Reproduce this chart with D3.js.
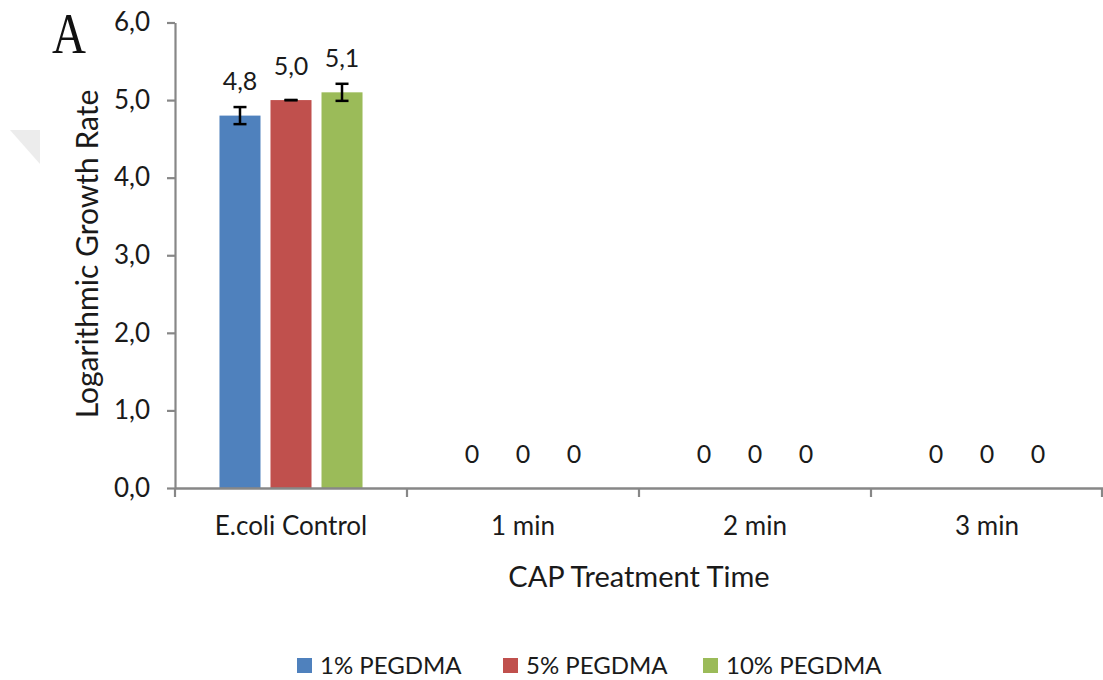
<!DOCTYPE html>
<html>
<head>
<meta charset="utf-8">
<script src="https://cdn.jsdelivr.net/npm/d3@7"></script>
<style>
  html, body { margin: 0; padding: 0; background: #fff; }
  svg { display: block; }
  text { font-family: Lato, "Noto Sans", sans-serif; fill: #1a1a1a; }
</style>
</head>
<body>
<svg id="chart" width="1103" height="680"></svg>
<script>
// Treatment groups on the x axis
const categories = ["E.coli Control", "1 min", "2 min", "3 min"];
// Polymer concentrations (one bar per group)
const seriesNames = ["1% PEGDMA", "5% PEGDMA", "10% PEGDMA"];
const seriesColors = ["#4f81bd", "#c0504d", "#9bbb59"];
// Logarithmic growth rate per series, one value per group
const values1 = [4.8, 0, 0, 0];
const values5 = [5.0, 0, 0, 0];
const values10 = [5.1, 0, 0, 0];
// Standard deviations (error bars) per series
const errors1 = [0.11, 0, 0, 0];
const errors5 = [0.0, 0, 0, 0];
const errors10 = [0.11, 0, 0, 0];
// Y tick values
const yTicks = [0, 1, 2, 3, 4, 5, 6];

const seriesValues = [values1, values5, values10];
const seriesErrors = [errors1, errors5, errors10];

const svg = d3.select("#chart");
const axisFmt = v => d3.format(".1f")(v).replace(".", ",");
const labelFmt = v => v === 0 ? "0" : axisFmt(v);
const axisColor = "#878787";

const plotLeft = 175, plotRight = 1103, plotTop = 22.5, plotBottom = 488;

const x0 = d3.scaleBand().domain(categories).range([plotLeft, plotRight]).padding(0);
const x1 = d3.scaleBand().domain(seriesNames).range([0, x0.bandwidth()])
  .paddingInner(0.196).paddingOuter(0.872);
const y = d3.scaleLinear().domain([0, 6]).range([plotBottom, plotTop]);

// faint watermark corner at the left edge
svg.append("polygon")
  .attr("points", "10,130 40,130 40,164")
  .attr("fill", "#ececec");

// panel letter
svg.append("text")
  .attr("transform", "translate(52,53) scale(0.84,1)")
  .style("font-family", "'Liberation Serif', 'DejaVu Serif', serif")
  .style("font-size", "56px")
  .style("fill", "#111")
  .text("A");

// bars
const groups = svg.append("g").selectAll("g")
  .data(categories)
  .join("g")
  .attr("transform", d => `translate(${x0(d)},0)`);

const rowsFor = (c, ci) => seriesNames.map((s, si) => ({ s, si, v: seriesValues[si][ci], e: seriesErrors[si][ci] }));

groups.selectAll("rect")
  .data(rowsFor)
  .join("rect")
  .attr("x", d => x1(d.s))
  .attr("y", d => y(d.v))
  .attr("width", x1.bandwidth())
  .attr("height", d => y(0) - y(d.v))
  .attr("fill", d => seriesColors[d.si]);

// error bars on non-zero values
const eb = groups.selectAll("g.err")
  .data((c, ci) => rowsFor(c, ci).filter(d => d.v > 0))
  .join("g")
  .attr("class", "err")
  .attr("stroke", "#000")
  .attr("stroke-width", 2.5);
const cx = d => x1(d.s) + x1.bandwidth() / 2;
const capHalf = 6.5;
eb.append("line").attr("x1", cx).attr("x2", cx).attr("y1", d => y(d.v + d.e)).attr("y2", d => y(d.v - d.e));
eb.append("line").attr("x1", d => cx(d) - capHalf).attr("x2", d => cx(d) + capHalf).attr("y1", d => y(d.v + d.e)).attr("y2", d => y(d.v + d.e));
eb.append("line").attr("x1", d => cx(d) - capHalf).attr("x2", d => cx(d) + capHalf).attr("y1", d => y(d.v - d.e)).attr("y2", d => y(d.v - d.e));

// value labels
groups.selectAll("text.val")
  .data(rowsFor)
  .join("text")
  .attr("class", "val")
  .attr("x", cx)
  .attr("y", d => y(d.v) - 25.5)
  .attr("text-anchor", "middle")
  .style("font-size", "25px")
  .text(d => labelFmt(d.v));

// y axis
const yAxis = svg.append("g")
  .attr("transform", `translate(${plotLeft},0)`)
  .call(d3.axisLeft(y).tickValues(yTicks).tickFormat(axisFmt).tickSize(8).tickSizeOuter(0).tickPadding(17));
yAxis.select(".domain").attr("stroke", axisColor).attr("stroke-width", 2.2);
yAxis.selectAll(".tick line").attr("stroke", axisColor).attr("stroke-width", 2.2);
yAxis.selectAll(".tick text").style("font-size", "26px").style("font-family", "Lato, sans-serif").attr("fill", "#1a1a1a");

// x axis with ticks at group boundaries
const xAxis = svg.append("g")
  .attr("transform", `translate(0,${plotBottom})`)
  .call(d3.axisBottom(x0).tickSize(0).tickPadding(0));
xAxis.select(".domain").attr("stroke", axisColor).attr("stroke-width", 2.6);
xAxis.selectAll(".tick text")
  .attr("y", 47).attr("dy", null)
  .style("font-size", "26px").style("font-family", "Lato, sans-serif").attr("fill", "#1a1a1a");
xAxis.selectAll("line.bound")
  .data(categories.map(c => x0(c)).concat([x0(categories[categories.length - 1]) + x0.bandwidth() - 1]))
  .join("line")
  .attr("class", "bound")
  .attr("x1", d => d).attr("x2", d => d)
  .attr("y1", 0).attr("y2", 9)
  .attr("stroke", axisColor).attr("stroke-width", 2.2);

// axis titles
svg.append("text")
  .attr("x", 639)
  .attr("y", 587)
  .attr("text-anchor", "middle")
  .style("font-size", "29px")
  .text("CAP Treatment Time");

svg.append("text")
  .attr("transform", "translate(98,254) rotate(-90)")
  .attr("text-anchor", "middle")
  .style("font-size", "30px")
  .text("Logarithmic Growth Rate");

// legend
const legendX = [297, 503, 703];
const legend = svg.append("g").selectAll("g")
  .data(seriesNames)
  .join("g")
  .attr("transform", (d, i) => `translate(${legendX[i]},658)`);
legend.append("rect").attr("width", 15).attr("height", 15).attr("fill", (d, i) => seriesColors[i]);
legend.append("text")
  .attr("x", 23).attr("y", 16)
  .style("font-size", "24px")
  .text(d => d);
</script>
</body>
</html>
